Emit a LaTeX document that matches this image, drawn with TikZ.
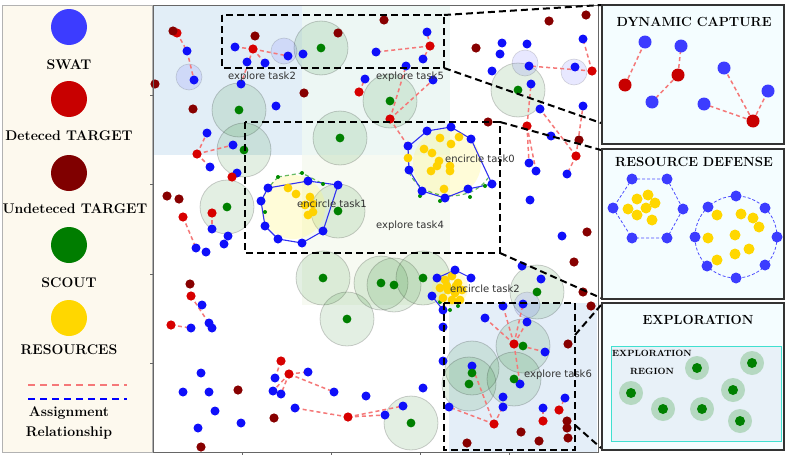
\documentclass[tikz,border=0pt]{standalone}
\usepackage{fontspec}
\newfontfamily\lblfont{DejaVu Sans}
\definecolor{swatL}{RGB}{60,60,255}
\definecolor{detL}{RGB}{200,0,0}
\definecolor{undL}{RGB}{128,0,0}
\definecolor{scoutL}{RGB}{0,125,0}
\definecolor{resL}{RGB}{255,215,0}
\definecolor{swatc}{RGB}{15,15,250}
\definecolor{detc}{RGB}{215,0,0}
\definecolor{undc}{RGB}{135,0,0}
\definecolor{scoutc}{RGB}{0,128,0}
\definecolor{resc}{RGB}{255,210,0}
\definecolor{legbg}{RGB}{253,249,238}
\definecolor{insbg}{RGB}{244,253,255}
\definecolor{regA}{RGB}{226,238,247}
\definecolor{regB}{RGB}{237,247,244}
\definecolor{regC}{RGB}{247,250,242}
\definecolor{regD}{RGB}{228,238,248}
\definecolor{expbg}{RGB}{232,241,248}
\definecolor{asgc}{RGB}{245,120,120}
\definecolor{polyc}{RGB}{50,50,240}
\begin{document}
\begin{tikzpicture}[x=1pt,y=-1pt,
  asg/.style={draw=asgc,line width=1.5pt,dash pattern=on 4pt off 3pt},
  zoombox/.style={draw=black,line width=2pt,dash pattern=on 7pt off 4pt},
  scoutarea/.style={fill=green!45!black,fill opacity=0.11,draw=black,draw opacity=0.18,line width=0.8pt},
  swatarea/.style={fill=blue!60,fill opacity=0.15,draw=black,draw opacity=0.15,line width=0.6pt},
  encarea/.style={fill=yellow!60!white,fill opacity=0.25},
  poly/.style={draw=polyc,line width=1.1pt},
  ring/.style={draw=green!55!black,opacity=0.6,line width=1.2pt,dash pattern=on 4pt off 3pt},
  plbl/.style={font=\lblfont\fontsize{10}{12}\selectfont,text=black!80},
  legtxt/.style={font=\fontsize{14}{16}\selectfont\bfseries},
  ttl/.style={font=\fontsize{13.2}{15}\selectfont\bfseries},
  insetbox/.style={draw=black!80,line width=1.3pt,fill=insbg}]
\useasboundingbox (0,0) rectangle (789,455);
\fill[white] (0,0) rectangle (789,455);
% ---------------- legend
\draw[black!30,fill=legbg] (2,5) rectangle (152,452);
\fill[swatL] (69,27) circle (18);
\node[legtxt] (lswat) at (69,65) {SWAT};
\fill[detL] (69,99) circle (18);
\node[legtxt] (ldet) at (69,136) {Deteced TARGET};
\fill[undL] (69,173) circle (18);
\node[legtxt] (lund) at (75,209) {Undeteced TARGET};
\fill[scoutL] (69,245) circle (18);
\node[legtxt] (lsc) at (69,283) {SCOUT};
\fill[resL] (69,318) circle (18);
\node[legtxt] (lres) at (69,350) {RESOURCES};
\coordinate (la1) at (28,385); \coordinate (la2) at (127,385);
\coordinate (lb1) at (28,399); \coordinate (lb2) at (127,399);
\draw[draw=asgc,line width=1.6pt,dash pattern=on 7pt off 5pt] (la1) -- (la2);
\draw[draw=blue,line width=1.6pt,dash pattern=on 7pt off 5pt] (lb1) -- (lb2);
\node[legtxt] (lasg1) at (69,413) {Assignment};
\node[legtxt] (lasg2) at (69,433) {Relationship};
% ---------------- plot background regions
\fill[regA] (153,5) rectangle (302,155);
\fill[regB] (302,5) rectangle (450,155);
\fill[regC] (302,155) rectangle (450,305);
\fill[regD] (449,303) rectangle (597,452);
% scout areas
\foreach \x/\y in {321/48,239/110,244/150,340/138,227/207,338/211,390/101,518/90,323/278,347/319,381/283,394/285,423/278,411/423,537/292,523/346,472/368,469/384,514/379}
  \path[scoutarea] (\x,\y) circle (27);
% swat areas
\foreach \x/\y in {189/77,284/51,525/63,574/72,527/305}
  \path[swatarea] (\x,\y) circle (13);
% encircle areas
\fill[encarea] (447,163) circle (34);
\fill[encarea] (293,207) circle (32);
\fill[encarea] (450,288) circle (18);
% assignment lines
\foreach \a/\b/\c/\d in {177/33/187/51,187/51/194/80,253/49/235/47,253/49/265/63,253/49/288/56,253/49/241/84,
  197/154/207/133,197/154/233/145,197/154/210/167,212/213/212/229,183/217/196/248,191/296/212/328,171/325/191/328,
  281/361/275/378,289/374/308/372,289/374/273/391,289/374/281/394,289/374/334/392,
  348/417/295/408,348/417/403/406,348/417/385/415,
  430/46/376/52,430/46/427/32,430/46/423/59,359/92/365/79,390/119/406/66,390/119/433/80,390/119/408/146,
  592/71/583/39,592/71/529/66,527/126/531/84,527/126/529/163,527/126/536/171,576/156/540/109,576/156/583/106,576/156/567/174,
  514/344/503/306,514/344/523/304,514/344/485/318,514/344/527/322,514/344/545/352,514/344/520/384,
  494/424/449/407,494/424/472/366,494/424/503/407,559/410/565/398,543/421/543/408}
  \draw[asg] (\a,\b) -- (\c,\d);
% encircle polygons
\draw[ring] (278,177) -- (302,173) -- (323,184);
\draw[ring] (278,177) -- (268,188);
\draw[ring] (409,172) .. controls (420,200) and (470,205) .. (488,178);
\draw[poly] (308,181) -- (338,185) -- (323,231) -- (302,243) -- (278,239) -- (265,226) -- (261,201) -- (268,188) -- cycle;
\draw[poly] (427,131) -- (451,127) -- (471,139) -- (492,184) -- (468,189) -- (445,198) -- (422,191) -- (409,170) -- (408,147) -- cycle;
\draw[poly] (437,278) -- (455,270) -- (471,278);
\draw[poly] (432,296) -- (443,310);
\foreach \x/\y in {278/177,302/173,323/184,265/212,420/196,440/201,470/197,485/186,450/310,458/306,440/302}
  \fill[green!55!black] (\x,\y) circle (2);
% resources
\foreach \x/\y in {440/138,451/144,459/137,424/149,432/153,439/161,437/166,431/171,450/166,450/171,444/189,408/158,
  288/188,296/194,310/197,305/205,313/204,308/215,313/212,
  445/280,452/276,458/283,448/290,455/293,462/290,443/298,452/300,460/300,447/286,440/288,456/286}
  \fill[resc] (\x,\y) circle (4.4);
% swat points
\foreach \x/\y in {187/51,194/80,235/47,247/62,265/63,288/56,303/54,241/84,276/106,207/133,233/145,210/167,237/173,
  212/229,228/236,224/244,196/248,206/252,
  308/181,338/185,268/188,261/201,265/226,278/239,302/243,323/231,
  202/305,209/323,212/328,191/328,
  201/373,275/378,308/372,183/392,209/392,273/391,281/394,334/392,366/396,215/411,295/408,198/428,241/423,403/406,385/415,423/388,443/361,443/327,443/310,
  376/52,427/32,423/59,406/66,433/80,365/79,408/146,
  427/131,451/127,471/139,492/184,468/189,445/198,422/191,409/170,
  502/43,527/44,500/54,492/71,529/66,575/67,583/39,531/84,540/109,583/106,551/136,529/163,536/171,567/174,530/200,562/236,522/266,541/279,
  437/278,455/270,471/278,432/296,
  503/306,523/304,485/318,527/322,545/352,472/366,520/384,449/407,503/397,503/407,565/398,543/408}
  \fill[swatc] (\x,\y) circle (4.5);
% detected targets
\foreach \x/\y in {177/33,253/49,197/154,232/177,212/213,183/217,191/296,171/325,281/361,289/374,348/417,430/46,359/92,390/119,592/71,527/126,576/156,514/344,494/424,559/410,543/421}
  \fill[detc] (\x,\y) circle (4.6);
% undetected targets
\foreach \x/\y in {173/31,155/84,255/36,338/33,193/109,304/93,167/196,179/199,190/284,238/390,274/418,201/447,384/20,476/48,549/21,586/15,488/122,579/140,587/232,574/262,583/292,591/306,568/344,567/421,567/428,568/438,521/432,539/441,467/443}
  \fill[undc] (\x,\y) circle (4.6);
% scouts
\foreach \x/\y in {321/48,239/110,244/150,340/138,227/207,338/211,390/101,518/90,323/278,347/319,381/283,394/285,423/278,411/423,537/292,523/346,472/373,469/384,514/379}
  \fill[scoutc] (\x,\y) circle (4.4);
% labels
\node[plbl] (t2) at (262,77) {explore task2};
\node[plbl] (t5) at (410,77) {explore task5};
\node[plbl] (t4) at (410,226) {explore task4};
\node[plbl] (e0) at (480,159) {encircle task0};
\node[plbl] (e1) at (332,204) {encircle task1};
\node[plbl] (e2) at (485,289) {encircle task2};
\node[plbl] (t6) at (558,375) {explore task6};
% axes frame and ticks
\draw[black!60,line width=1pt] (153,5) rectangle (598,452);
\foreach \y in {95,184,274,363} \draw[black!60,line width=0.8pt] (150,\y) -- (153,\y);
\foreach \x in {242,331,420,509} \draw[black!60,line width=0.8pt] (\x,452) -- (\x,455);
% zoom boxes
\draw[zoombox] (222,15) rectangle (444,68);
\draw[zoombox] (444,15) -- (601,5);
\draw[zoombox] (444,68) -- (601,123);
\draw[zoombox] (245,122) rectangle (500,253);
\draw[zoombox] (500,122) -- (601,150);
\draw[zoombox] (500,253) -- (601,298);
\draw[zoombox] (444,303) rectangle (575,450);
\draw[zoombox] (575,335) -- (601,305);
\draw[zoombox] (575,425) -- (601,448);
% ---------------- inset 1: dynamic capture
\draw[insetbox] (602,5) rectangle (784,144);
\node[ttl] (dc) at (694,22) {DYNAMIC CAPTURE};
\foreach \a/\b/\c/\d in {625/85/645/42,678/75/681/46,678/75/652/102,753/121/724/68,753/121/768/91,753/121/704/104}
  \draw[asg] (\a,\b) -- (\c,\d);
\foreach \x/\y in {645/42,681/46,652/102,724/68,768/91,704/104}
  \fill[swatL] (\x,\y) circle (6.5);
\foreach \x/\y in {625/85,678/75,753/121}
  \fill[detL] (\x,\y) circle (6.5);
% ---------------- inset 2: resource defense
\draw[insetbox] (602,149) rectangle (784,299);
\node[ttl] (rd) at (694,162) {RESOURCE DEFENSE};
\draw[blue!70,line width=0.8pt,dash pattern=on 3pt off 2pt] (632,179) -- (667,179) -- (683,209) -- (667,238) -- (632,238) -- (613,208) -- cycle;
\draw[blue!70,line width=0.8pt,dash pattern=on 3pt off 2pt] (736,237) circle (41);
\foreach \x/\y in {637/199,648/195,655/203,628/209,637/215,646/208,652/220,
  717/215,741/214,753/218,759/227,708/238,735/235,749/249,735/254,717/260}
  \fill[resL] (\x,\y) circle (5.5);
\foreach \x/\y in {632/179,667/179,683/209,667/238,632/238,613/208,
  736/196,765/208,777/237,765/265,736/278,707/266,695/237,708/207}
  \fill[swatL] (\x,\y) circle (5.5);
% ---------------- inset 3: exploration
\draw[insetbox] (602,303) rectangle (784,450);
\node[ttl] (ex) at (698,320) {EXPLORATION};
\draw[draw={rgb,255:red,64;green,224;blue,208},line width=1pt,fill=expbg] (611,346) rectangle (781,441);
\node[font=\fontsize{9}{10}\selectfont\bfseries] (er1) at (652,353) {EXPLORATION};
\node[font=\fontsize{9}{10}\selectfont\bfseries] (er2) at (652,371) {REGION};
\foreach \x/\y in {631/393,663/409,697/368,702/409,733/390,752/363,740/421}
  {\fill[green!50!black,fill opacity=0.22] (\x,\y) circle (12);
   \fill[scoutc] (\x,\y) circle (5);}
\end{tikzpicture}
\end{document}
